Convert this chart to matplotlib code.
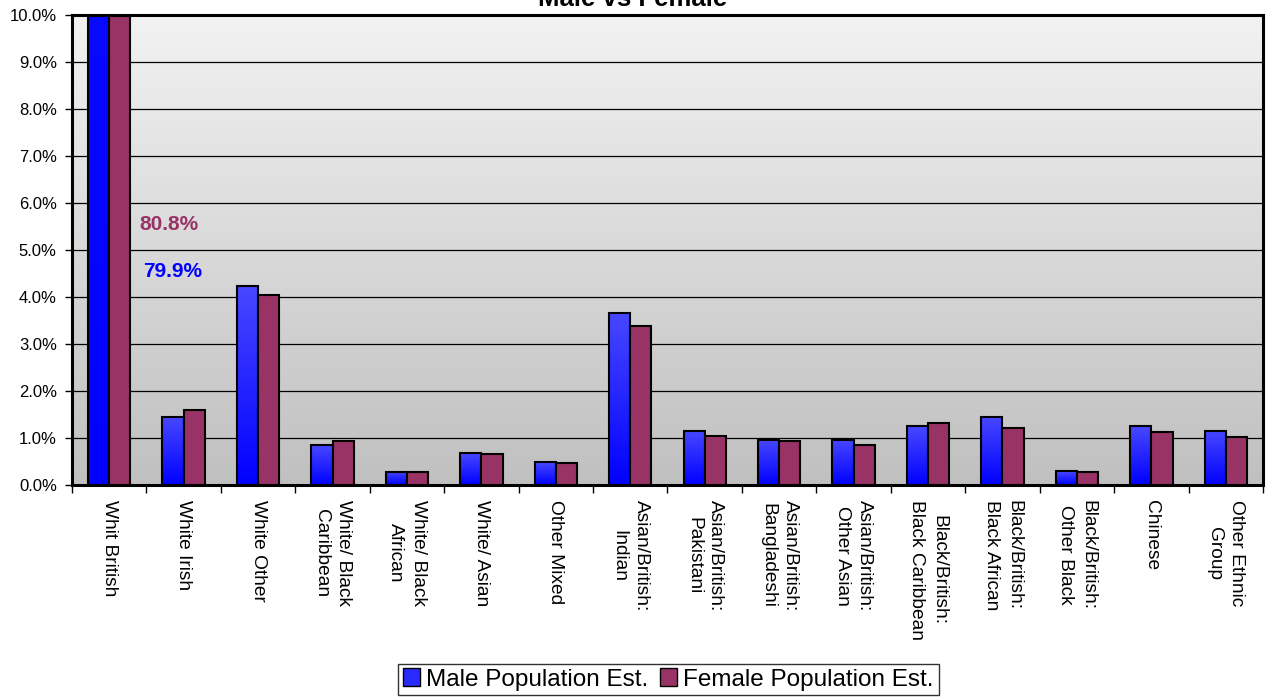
import numpy as np
import matplotlib
matplotlib.use('Agg')
import matplotlib.pyplot as plt
from matplotlib.colors import LinearSegmentedColormap
from matplotlib.patches import Patch
from matplotlib.ticker import FuncFormatter, FixedLocator

plt.rcParams['font.family'] = ['Liberation Sans', 'DejaVu Sans']

categories = ['Whit British', 'White Irish', 'White Other', 'White/ Black\nCaribbean',
              'White/ Black\nAfrican', 'White/ Asian', 'Other Mixed', 'Asian/British:\nIndian',
              'Asian/British:\nPakistani', 'Asian/British:\nBangladeshi', 'Asian/British:\nOther Asian',
              'Black/British:\nBlack Caribbean', 'Black/British:\nBlack African',
              'Black/British:\nOther Black', 'Chinese', 'Other Ethnic\nGroup']
male = [79.9, 1.45, 4.23, 0.85, 0.28, 0.67, 0.48, 3.66, 1.15, 0.96, 0.96, 1.25, 1.45, 0.29, 1.25, 1.15]
female = [80.8, 1.60, 4.04, 0.93, 0.27, 0.65, 0.47, 3.38, 1.04, 0.94, 0.85, 1.32, 1.22, 0.27, 1.13, 1.03]

male_col = '#2a2aff'
female_col = '#993366'

fig = plt.figure(figsize=(12.66, 6.98), dpi=100)
ax = fig.add_axes([0.0569, 0.3052, 0.9407, 0.6733])

n = len(categories)
x = np.arange(n)
w = 0.285

# background gradient
bg = LinearSegmentedColormap.from_list('bg', ['#c0c0c0', '#f2f2f2'])
ax.imshow(np.linspace(0, 1, 256).reshape(-1, 1), extent=[0, 1, 0, 1], origin='lower',
          transform=ax.transAxes, cmap=bg, aspect='auto', zorder=0)

# male bars with gradient
mcmap = LinearSegmentedColormap.from_list('m', ['#0000ff', '#4848ff'])
grad = np.linspace(0, 1, 256).reshape(-1, 1)
for xi, v in zip(x, male):
    ax.imshow(grad, extent=[xi - w, xi, 0, v], origin='lower', cmap=mcmap,
              aspect='auto', zorder=2)
ax.bar(x - w / 2, male, w, fill=False, edgecolor='black', linewidth=1.5, zorder=3)
ax.bar(x + w / 2, female, w, color=female_col, edgecolor='black', linewidth=1.5, zorder=3)

ax.set_xlim(-0.5, n - 0.5)
ax.set_ylim(0, 10)
ax.yaxis.set_major_locator(FixedLocator(np.arange(0, 10.01, 1)))
ax.yaxis.set_major_formatter(FuncFormatter(lambda v, p: '%.1f%%' % v))
ax.grid(axis='y', color='black', linewidth=0.9, zorder=1)
ax.set_axisbelow(True)

ax.set_xticks(x)
ax.set_xticklabels(categories, rotation=270, va='top', ha='center',
                   fontsize=13.8, multialignment='center', linespacing=1.4)
ax.tick_params(axis='x', length=0, pad=11)
ax.set_xticks(np.arange(-0.5, n, 1), minor=True)
ax.tick_params(axis='x', which='minor', length=6, width=1)
ax.tick_params(axis='y', length=5, width=1, labelsize=12, pad=6)
for s in ax.spines.values():
    s.set_linewidth(2.2)
    s.set_zorder(5)

ax.text(0.41, 5.55, '80.8%', color=female_col, fontsize=15, fontweight='bold', va='center')
ax.text(0.45, 4.55, '79.9%', color='#0000ff', fontsize=15, fontweight='bold', va='center')

fig.text(0.5, 1 - 6.5 / 698, 'Male vs Female', ha='center', va='baseline',
         fontsize=18.5, fontweight='bold')

handles = [Patch(facecolor=male_col, edgecolor='black'),
           Patch(facecolor=female_col, edgecolor='black')]
leg = fig.legend(handles, ['Male Population Est.', 'Female Population Est.'],
                 loc='center', bbox_to_anchor=(0.528, 0.0265), ncol=2, fontsize=17.5,
                 frameon=True, fancybox=False, edgecolor='black', handlelength=0.7,
                 handleheight=0.7, handletextpad=0.25, columnspacing=0.5,
                 borderpad=0.2, borderaxespad=0)
leg.get_frame().set_linewidth(1.0)

fig.savefig('out.png', dpi=100)
